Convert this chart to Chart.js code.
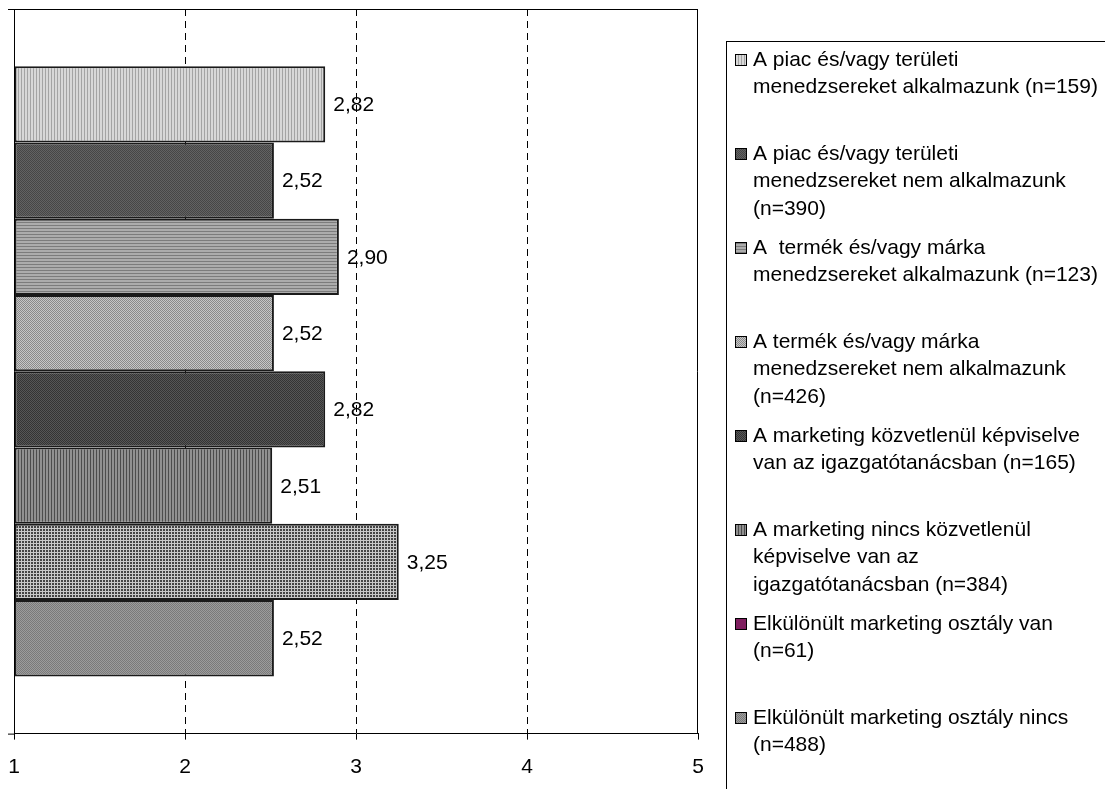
<!DOCTYPE html>
<html>
<head>
<meta charset="utf-8">
<script src="https://cdn.jsdelivr.net/npm/chart.js@4.4.0/dist/chart.umd.min.js"></script>
<style>
  body { margin: 0; background: #fff; }
  #wrap { width: 1105px; height: 789px; position: relative; }
</style>
</head>
<body>
<div id="wrap"><canvas id="chart"></canvas></div>
<script>
// one entry per group, top to bottom
const groups = [
  ['A piac és/vagy területi', 'menedzsereket alkalmazunk (n=159)'],
  ['A piac és/vagy területi', 'menedzsereket nem alkalmazunk', '(n=390)'],
  ['A  termék és/vagy márka', 'menedzsereket alkalmazunk (n=123)'],
  ['A termék és/vagy márka', 'menedzsereket nem alkalmazunk', '(n=426)'],
  ['A marketing közvetlenül képviselve', 'van az igazgatótanácsban (n=165)'],
  ['A marketing nincs közvetlenül', 'képviselve van az', 'igazgatótanácsban (n=384)'],
  ['Elkülönült marketing osztály van', '(n=61)'],
  ['Elkülönült marketing osztály nincs', '(n=488)']
];
const means = [2.82, 2.52, 2.90, 2.52, 2.82, 2.51, 3.25, 2.52];
const xTicks = [1, 2, 3, 4, 5];

const FONT = '"Liberation Sans", Arial, sans-serif';
Chart.defaults.font.family = FONT;
Chart.defaults.font.size = 21;
Chart.defaults.color = '#000';

// small repeating tiles, like the old office fill patterns
function tile(w, h, bg, fg, isInk) {
  const c = document.createElement('canvas');
  c.width = w; c.height = h;
  const g = c.getContext('2d');
  g.fillStyle = bg;
  g.fillRect(0, 0, w, h);
  g.fillStyle = fg;
  for (let y = 0; y < h; y++)
    for (let x = 0; x < w; x++)
      if (isInk(x, y)) g.fillRect(x, y, 1, 1);
  return g.createPattern(c, 'repeat');
}

const fills = [
  tile(3, 1, '#d8d8d8', '#a4a4a4', x => x === 0),
  tile(2, 2, '#626262', '#464646', (x, y) => (x + y) % 2 === 0),
  tile(1, 3, '#acacac', '#7c7c7c', (x, y) => y === 0),
  tile(2, 2, '#c6c6c6', '#8a8a8a', (x, y) => (x + y) % 2 === 0),
  tile(2, 2, '#565656', '#343434', (x, y) => (x + y) % 2 === 0),
  tile(3, 1, '#909090', '#4c4c4c', x => x === 0),
  tile(3, 3, '#c8c8c8', '#444444', (x, y) => x !== 0 && y !== 0),
  tile(2, 2, '#9c9c9c', '#7a7a7a', (x, y) => (x + y) % 2 === 0)
];
const legendFills = fills.slice();
legendFills[6] = '#7f1f5f';

const datasets = groups.map((lines, i) => ({
  label: lines,
  data: [means[i]],
  base: 1,
  backgroundColor: fills[i],
  borderColor: '#1a1a1a',
  borderWidth: 2,
  borderSkipped: false,
  barPercentage: 1,
  categoryPercentage: 0.842
}));

// "2,82" style labels just right of each bar
const valueLabels = {
  id: 'valueLabels',
  afterDatasetsDraw(chart) {
    const ctx = chart.ctx;
    ctx.save();
    ctx.font = '21px ' + FONT;
    ctx.fillStyle = '#000';
    ctx.textBaseline = 'middle';
    chart.data.datasets.forEach((ds, i) => {
      const bar = chart.getDatasetMeta(i).data[0];
      ctx.fillText(ds.data[0].toFixed(2).replace('.', ','), bar.x + 8, bar.y + 1);
    });
    ctx.restore();
  }
};

// solid plot frame: top, right, left axis and its end ticks
const frame = {
  id: 'frame',
  afterDraw(chart) {
    const { left, right, top, bottom } = chart.chartArea;
    const ctx = chart.ctx;
    ctx.save();
    ctx.strokeStyle = '#000';
    ctx.lineWidth = 1;
    ctx.beginPath();
    ctx.moveTo(left - 6, top + 0.5); ctx.lineTo(right, top + 0.5);
    ctx.moveTo(right - 0.5, top); ctx.lineTo(right - 0.5, bottom);
    ctx.moveTo(left + 0.5, top); ctx.lineTo(left + 0.5, bottom);
    ctx.moveTo(left - 6, bottom + 0.5); ctx.lineTo(left, bottom + 0.5);
    ctx.stroke();
    ctx.restore();
  }
};

// boxed legend on the right, wrapped entries
const sideLegend = {
  id: 'sideLegend',
  afterDraw(chart) {
    const ctx = chart.ctx;
    const boxX = 726, boxY = 41;
    const firstRow = 60, rowStep = 94, lineStep = 27.5;
    ctx.save();
    ctx.strokeStyle = '#000';
    ctx.lineWidth = 1;
    ctx.strokeRect(boxX + 0.5, boxY + 0.5, 600, 800);
    ctx.font = '21px ' + FONT;
    ctx.textBaseline = 'middle';
    chart.data.datasets.forEach((ds, i) => {
      const y = firstRow + i * rowStep;
      ctx.fillStyle = legendFills[i];
      ctx.fillRect(735, y - 5, 11, 11);
      ctx.strokeStyle = '#000';
      ctx.strokeRect(735.5, y - 5.5, 11, 11);
      ctx.fillStyle = '#000';
      ds.label.forEach((line, k) => ctx.fillText(line, 753, y + k * lineStep));
    });
    ctx.restore();
  }
};

new Chart(document.getElementById('chart'), {
  type: 'bar',
  data: { labels: [''], datasets },
  options: {
    indexAxis: 'y',
    responsive: true,
    maintainAspectRatio: false,
    animation: false,
    layout: { padding: { left: 14, top: 9, right: 407, bottom: -5 } },
    plugins: {
      legend: { display: false },
      tooltip: { enabled: false }
    },
    scales: {
      y: { display: false },
      x: {
        min: 1,
        max: 5,
        afterBuildTicks: axis => { axis.ticks = xTicks.map(v => ({ value: v })); },
        afterFit: axis => { axis.paddingLeft = 0; axis.paddingRight = 0; },
        ticks: { padding: 19, font: { size: 21, lineHeight: 0.78 }, color: '#000' },
        grid: {
          color: c => (c.tick && c.tick.value > 1 && c.tick.value < 5) ? '#000' : 'rgba(0,0,0,0)',
          tickColor: '#000',
          tickLength: 6,
          lineWidth: 1
        },
        border: { display: true, color: '#000', width: 1, dash: [7, 5] }
      }
    }
  },
  plugins: [valueLabels, frame, sideLegend]
});
</script>
</body>
</html>
